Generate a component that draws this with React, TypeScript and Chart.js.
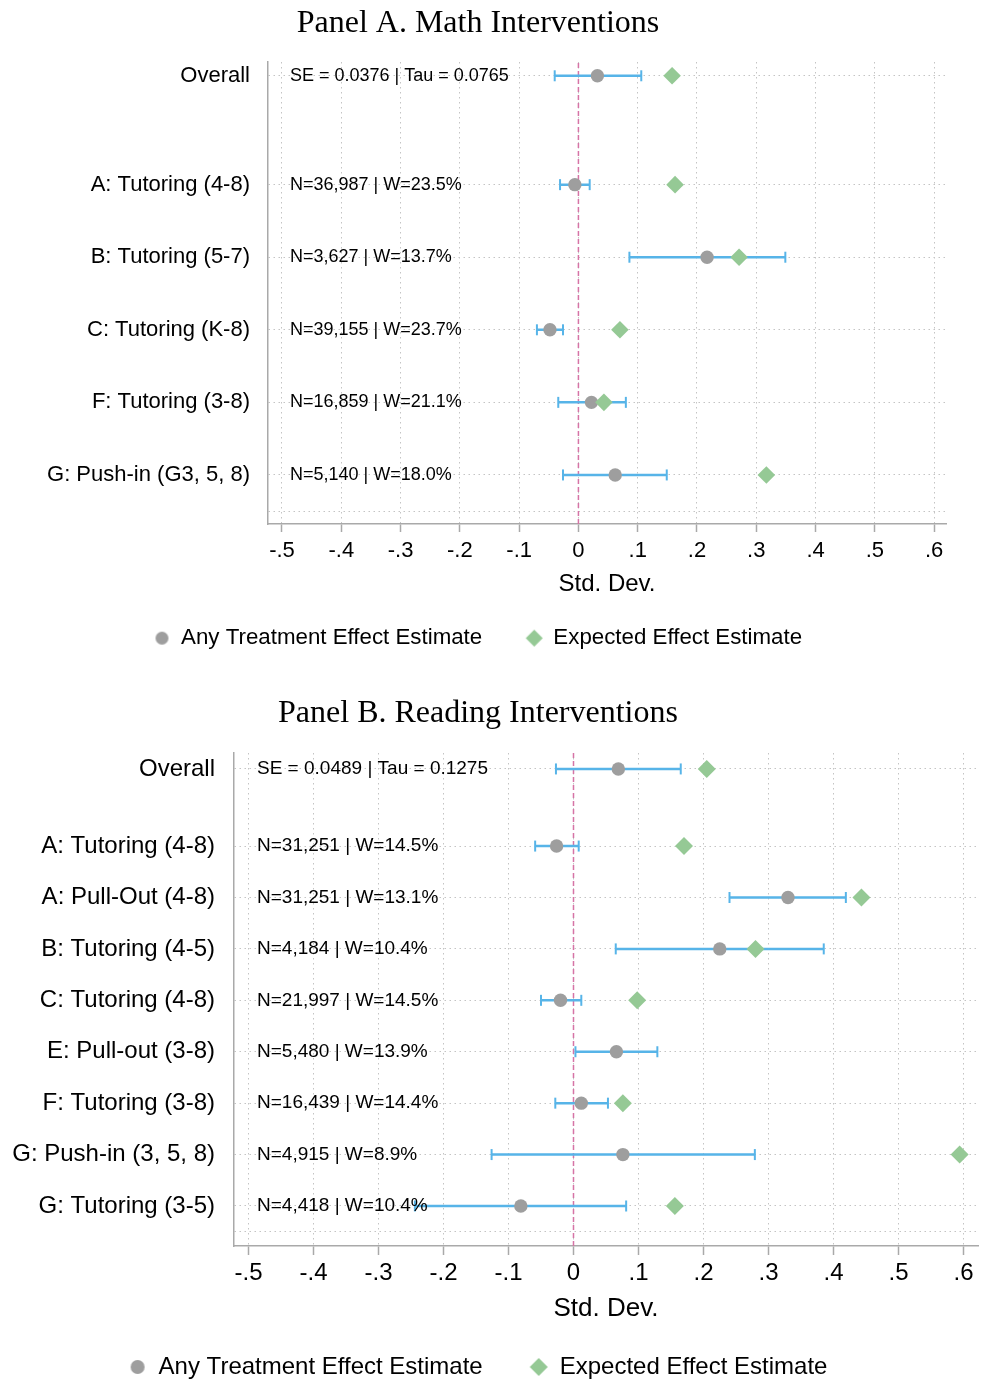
import React, { useEffect, useRef } from 'react';
import { Chart, registerables } from 'chart.js';

Chart.register(...registerables);

// ---------- shared x-axis ticks ----------
const xTickValues = [-0.5, -0.4, -0.3, -0.2, -0.1, 0, 0.1, 0.2, 0.3, 0.4, 0.5, 0.6];

// ---------- Panel A: Math ----------
const mathTitle = 'Panel A. Math Interventions';
const mathLabels = ['Overall', 'A: Tutoring (4-8)', 'B: Tutoring (5-7)', 'C: Tutoring (K-8)', 'F: Tutoring (3-8)', 'G: Push-in (G3, 5, 8)'];
const mathRows = [5.5, 4, 3, 2, 1, 0];
const mathEst = [0.032, -0.006, 0.217, -0.048, 0.022, 0.062];
const mathLo = [-0.040, -0.031, 0.086, -0.070, -0.034, -0.026];
const mathHi = [0.106, 0.019, 0.349, -0.026, 0.080, 0.149];
const mathExp: (number | null)[] = [0.158, 0.163, 0.271, 0.070, 0.043, 0.317];
const mathNotes = ['SE = 0.0376 | Tau = 0.0765', 'N=36,987 | W=23.5%', 'N=3,627 | W=13.7%', 'N=39,155 | W=23.7%', 'N=16,859 | W=21.1%', 'N=5,140 | W=18.0%'];

// ---------- Panel B: Reading ----------
const readTitle = 'Panel B. Reading Interventions';
const readLabels = ['Overall', 'A: Tutoring (4-8)', 'A: Pull-Out (4-8)', 'B: Tutoring (4-5)', 'C: Tutoring (4-8)', 'E: Pull-out (3-8)', 'F: Tutoring (3-8)', 'G: Push-in (3, 5, 8)', 'G: Tutoring (3-5)'];
const readRows = [8.5, 7, 6, 5, 4, 3, 2, 1, 0];
const readEst = [0.069, -0.026, 0.330, 0.225, -0.020, 0.066, 0.012, 0.076, -0.081];
const readLo = [-0.027, -0.059, 0.240, 0.065, -0.050, 0.003, -0.028, -0.126, -0.244];
const readHi = [0.165, 0.008, 0.419, 0.385, 0.012, 0.129, 0.053, 0.279, 0.081];
const readExp: (number | null)[] = [0.205, 0.170, 0.443, 0.280, 0.098, null, 0.076, 0.594, 0.156];
const readNotes = ['SE = 0.0489 | Tau = 0.1275', 'N=31,251 | W=14.5%', 'N=31,251 | W=13.1%', 'N=4,184 | W=10.4%', 'N=21,997 | W=14.5%', 'N=5,480 | W=13.9%', 'N=16,439 | W=14.4%', 'N=4,915 | W=8.9%', 'N=4,418 | W=10.4%'];

const legendNames = ['Any Treatment Effect Estimate', 'Expected Effect Estimate'];
const xAxisTitle = 'Std. Dev.';

const SANS = "'Liberation Sans', Arial, Helvetica, sans-serif";
const SERIF = "'Liberation Serif', 'Times New Roman', serif";

const C_BLUE = '#57b4e8';
const C_GRAY = '#9e9e9e';
const C_GREEN = '#95c995';
const C_PINK = '#d674a6';
const C_GRID = '#c4c4c4';
const C_AXIS = '#a9a9a9';

const notesPlugin = {
  id: 'notes',
  afterDatasetsDraw(chart: any, _args: any, opts: any) {
    const { ctx, chartArea, scales } = chart;
    ctx.save();
    ctx.font = `${opts.size}px ${SANS}`;
    ctx.fillStyle = '#000';
    ctx.textBaseline = 'middle';
    ctx.textAlign = 'left';
    opts.notes.forEach((t: string, i: number) => {
      ctx.fillText(t, chartArea.left + opts.offset, scales.y.getPixelForValue(opts.rows[i]));
    });
    ctx.restore();
  },
};

// small marker images for the legend (circle and diamond of their own sizes)
function markerImage(kind: 'circle' | 'diamond', r: number, color: string): HTMLCanvasElement {
  const s = Math.ceil(r * 2) + 2;
  const c = document.createElement('canvas');
  c.width = s;
  c.height = s;
  const g = c.getContext('2d')!;
  g.fillStyle = color;
  g.beginPath();
  if (kind === 'circle') {
    g.arc(s / 2, s / 2, r, 0, Math.PI * 2);
  } else {
    g.moveTo(s / 2, s / 2 - r);
    g.lineTo(s / 2 + r, s / 2);
    g.lineTo(s / 2, s / 2 + r);
    g.lineTo(s / 2 - r, s / 2);
    g.closePath();
  }
  g.fill();
  return c;
}

function fmtX(v: number) {
  const r = Math.round(v * 10) / 10;
  if (r === 0) return '0';
  return r.toString().replace(/^(-?)0\./, '$1.');
}

type PanelCfg = {
  title: string; labels: string[]; rows: number[]; est: number[]; lo: number[]; hi: number[];
  exp: (number | null)[]; notes: string[];
  left: number; top: number; w: number; h: number;
  pad: { top: number; bottom: number; left: number; right: number };
  titlePad: { top: number; bottom: number };
  yWidth: number; xHeight: number; yMin: number; yMax: number; xMin: number; xMax: number;
  labelFont: number; tickFont: number; tickLen: number; tickPad: number; xTitleFont: number; xTitlePadBottom: number;
  legendFont: number; legendPad: number; legendBoxW: number; legendMaxH: number;
  noteSize: number; noteOffset: number; yLabelPad: number; pointR: number; diamondR: number;
  legCircleR: number; legDiamondR: number;
};

const panelA: PanelCfg = {
  title: mathTitle, labels: mathLabels, rows: mathRows, est: mathEst, lo: mathLo, hi: mathHi, exp: mathExp, notes: mathNotes,
  left: 0, top: 0, w: 981, h: 659,
  pad: { top: 0, bottom: 0, left: 10, right: 35 },
  titlePad: { top: 4.8, bottom: 18.8 },
  yWidth: 258, xHeight: 59, yMin: -0.676, yMax: 5.69, xMin: -0.5236, xMax: 0.62,
  labelFont: 22, tickFont: 22, tickLen: 8, tickPad: 5.8, xTitleFont: 24, xTitlePadBottom: -15.4,
  legendFont: 22.3, legendPad: 44, legendBoxW: 16, legendMaxH: 76,
  noteSize: 18, noteOffset: 22, yLabelPad: 18, pointR: 6.7, diamondR: 8.8,
  legCircleR: 6.5, legDiamondR: 8.5,
};

const panelB: PanelCfg = {
  title: readTitle, labels: readLabels, rows: readRows, est: readEst, lo: readLo, hi: readHi, exp: readExp, notes: readNotes,
  left: -24, top: 665, w: 1005, h: 718,
  pad: { top: 0, bottom: 0, left: 2, right: 3 },
  titlePad: { top: 29.8, bottom: 19.8 },
  yWidth: 256, xHeight: 62, yMin: -0.778, yMax: 8.81, xMin: -0.5223, xMax: 0.6223,
  labelFont: 24, tickFont: 24, tickLen: 9, tickPad: 3.6, xTitleFont: 26, xTitlePadBottom: -16.6,
  legendFont: 24, legendPad: 47, legendBoxW: 18, legendMaxH: 75,
  noteSize: 19, noteOffset: 23, yLabelPad: 19, pointR: 6.7, diamondR: 9,
  legCircleR: 7, legDiamondR: 9,
};

function buildConfig(p: PanelCfg): any {
  const ciData: any[] = [];
  p.rows.forEach((r, i) => {
    ciData.push({ x: p.lo[i], y: r });
    ciData.push({ x: p.hi[i], y: r });
    ciData.push({ x: p.hi[i], y: null });
  });
  const estData = p.rows.map((r, i) => ({ x: p.est[i], y: r }));
  const expData = p.rows
    .map((r, i) => ({ x: p.exp[i], y: r }))
    .filter((d) => d.x !== null && d.x !== undefined);
  const labelMap = new Map<number, string>();
  p.rows.forEach((r, i) => labelMap.set(r, p.labels[i]));
  const yTickValues = [-0.5, ...p.rows.slice().sort((a, b) => a - b)];
  const legendImgs = [
    markerImage('circle', p.legCircleR, C_GRAY),
    markerImage('diamond', p.legDiamondR, C_GREEN),
  ];

  return {
    type: 'scatter',
    data: {
      datasets: [
        {
          label: legendNames[0],
          data: estData,
          pointStyle: 'circle',
          pointRadius: p.pointR,
          backgroundColor: C_GRAY,
          borderColor: C_GRAY,
          borderWidth: 0,
          order: 1,
        },
        {
          label: legendNames[1],
          data: expData,
          pointStyle: 'rectRot',
          pointRadius: p.diamondR,
          backgroundColor: C_GREEN,
          borderColor: C_GREEN,
          borderWidth: 0,
          order: 0,
        },
        {
          label: '',
          data: ciData,
          showLine: true,
          spanGaps: false,
          borderColor: C_BLUE,
          borderWidth: 2.5,
          pointStyle: 'line',
          rotation: 90,
          pointRadius: 5.5,
          pointBorderWidth: 2,
          pointBorderColor: C_BLUE,
          pointBackgroundColor: C_BLUE,
          order: 2,
        },
        {
          label: '',
          data: [{ x: 0, y: p.yMin }, { x: 0, y: p.yMax }],
          showLine: true,
          borderColor: C_PINK,
          borderWidth: 1.5,
          borderDash: [5, 3],
          pointRadius: 0,
          order: 3,
        },
      ],
    },
    options: {
      responsive: false,
      animation: false,
      events: [],
      layout: { padding: p.pad, autoPadding: false },
      plugins: {
        tooltip: { enabled: false },
        title: {
          display: true,
          text: p.title,
          color: '#000',
          font: { family: SERIF, size: 32, weight: 'normal' },
          padding: p.titlePad,
        },
        legend: {
          display: true,
          position: 'bottom',
          maxHeight: p.legendMaxH,
          labels: {
            usePointStyle: true,
            boxWidth: p.legendBoxW,
            boxHeight: 10,
            padding: p.legendPad,
            color: '#000',
            font: { family: SANS, size: p.legendFont },
            generateLabels: (chart: any) => {
              const items = Chart.defaults.plugins.legend.labels.generateLabels(chart);
              return items
                .filter((it: any) => it.text !== '')
                .map((it: any) => ({ ...it, pointStyle: legendImgs[it.datasetIndex] ?? it.pointStyle }));
            },
            sort: (a: any, b: any) => a.datasetIndex - b.datasetIndex,
          },
        },
        notes: { notes: p.notes, rows: p.rows, size: p.noteSize, offset: p.noteOffset },
      },
      scales: {
        x: {
          type: 'linear',
          min: p.xMin,
          max: p.xMax,
          afterBuildTicks: (scale: any) => {
            scale.ticks = xTickValues.map((v) => ({ value: v }));
          },
          afterFit: (scale: any) => {
            scale.height = p.xHeight;
            scale.paddingLeft = 0;
            scale.paddingRight = 0;
          },
          ticks: {
            autoSkip: false,
            maxRotation: 0,
            padding: p.tickPad,
            color: '#000',
            font: { family: SANS, size: p.tickFont },
            callback: (v: any) => fmtX(Number(v)),
          },
          grid: {
            color: C_GRID,
            lineWidth: 1,
            drawTicks: true,
            tickLength: p.tickLen,
            tickColor: C_AXIS,
            tickWidth: 1.5,
            tickBorderDash: [],
          },
          border: { display: true, color: C_AXIS, width: 1.5, dash: [1.5, 3.5] },
          title: {
            display: true,
            text: xAxisTitle,
            color: '#000',
            font: { family: SANS, size: p.xTitleFont },
            padding: { top: 0, bottom: p.xTitlePadBottom },
          },
        },
        y: {
          type: 'linear',
          min: p.yMin,
          max: p.yMax,
          afterBuildTicks: (scale: any) => {
            scale.ticks = yTickValues.map((v) => ({ value: v }));
          },
          afterFit: (scale: any) => {
            scale.width = p.yWidth;
            scale.paddingTop = 0;
            scale.paddingBottom = 0;
          },
          ticks: {
            autoSkip: false,
            padding: p.yLabelPad,
            color: '#000',
            font: { family: SANS, size: p.labelFont },
            callback: (v: any) => labelMap.get(Number(v)) ?? '',
          },
          grid: {
            color: C_GRID,
            lineWidth: 1,
            drawTicks: false,
            tickLength: 0,
          },
          border: { display: true, color: C_AXIS, width: 1.5, dash: [1.5, 3.5] },
        },
      },
    },
    plugins: [notesPlugin],
  };
}

function Panel({ cfg }: { cfg: PanelCfg }) {
  const ref = useRef<HTMLCanvasElement>(null);
  useEffect(() => {
    if (!ref.current) return;
    const chart = new Chart(ref.current, buildConfig(cfg));
    return () => chart.destroy();
  }, [cfg]);
  return (
    <canvas
      ref={ref}
      width={cfg.w}
      height={cfg.h}
      style={{ position: 'absolute', left: cfg.left, top: cfg.top, width: cfg.w, height: cfg.h, display: 'block' }}
    />
  );
}

export default function App() {
  return (
    <div style={{ position: 'absolute', left: 0, top: 0, width: 981, height: 1383, overflow: 'hidden', background: '#fff' }}>
      <Panel cfg={panelA} />
      <Panel cfg={panelB} />
    </div>
  );
}
